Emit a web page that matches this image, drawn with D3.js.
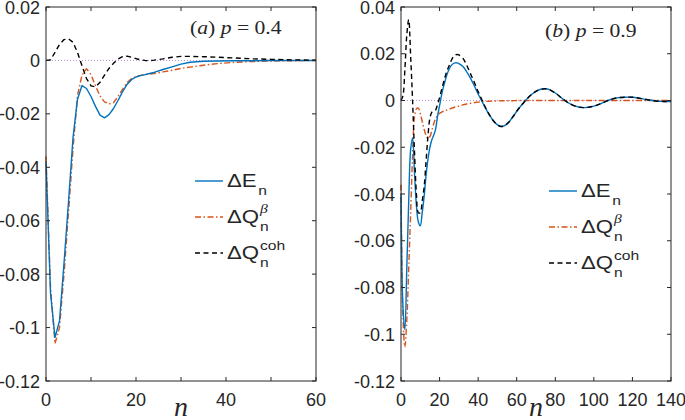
<!DOCTYPE html>
<html>
<head>
<meta charset="utf-8">
<style>
  body { margin: 0; background: #fff; }
  svg text { font-family: "Liberation Sans", Arial, sans-serif; fill: #262626; }
</style>
</head>
<body>
<script src="https://cdnjs.cloudflare.com/ajax/libs/d3/7.8.5/d3.min.js"></script>
<svg id="chart" width="685" height="420"></svg>
<script>
// ---- panel (a), p = 0.4 ----
const nA = [0,1,2,3,4,5,6,7,8,9,10,11,12,13,14,15,16,17,18,19,20,21,22,23,24,26,28,30,32,35,38,42,46,50,55,60];
const eA = [-0.038,-0.087,-0.1037,-0.0975,-0.076,-0.053,-0.029,-0.0145,-0.0094,-0.0105,-0.0135,-0.0172,-0.0205,-0.0215,-0.0203,-0.018,-0.015,-0.0118,-0.009,-0.0072,-0.0062,-0.0057,-0.0053,-0.0049,-0.0045,-0.0034,-0.0024,-0.0014,-0.0007,-0.0003,-0.0002,-0.0001,-0.0001,0,0,0];
const qbA = [-0.036,-0.085,-0.106,-0.1,-0.08,-0.057,-0.033,-0.013,-0.0055,-0.0031,-0.0053,-0.0095,-0.0133,-0.0155,-0.0163,-0.0158,-0.0135,-0.0108,-0.0083,-0.0068,-0.006,-0.0056,-0.0053,-0.0051,-0.0049,-0.0043,-0.0037,-0.003,-0.0025,-0.0018,-0.0012,-0.0007,-0.0004,-0.0002,-0.0001,0];
const qcA = [0,0.0002,0.003,0.006,0.0078,0.0081,0.0068,0.003,-0.002,-0.0068,-0.0095,-0.0099,-0.0082,-0.0055,-0.003,-0.0011,0.0005,0.0014,0.0016,0.0012,0.0007,0.0002,0,-0.0001,0.0001,0.0006,0.0012,0.0015,0.0015,0.0014,0.0012,0.0009,0.0006,0.0004,0.0002,0.0001];

// ---- panel (b), p = 0.9 ----
const nB = [0,1,2,3,4,5,6,7,8,9,10,11,12,13,14,15,16,17,18,19,20,21,22,23,24,25,26,27,28,29,30,
  32,34,36,38,40,42,44,46,48,50,52,54,56,58,60,64,68,72,76,80,84,88,92,96,100,104,108,112,116,120,124,128,132,136,140];
const eB = [-0.04,-0.088,-0.098,-0.072,-0.043,-0.021,-0.016,-0.031,-0.045,-0.052,-0.0536,-0.048,-0.041,-0.032,-0.025,-0.02,-0.0168,-0.0148,-0.012,-0.0065,-0.0022,0.0022,0.0058,0.0088,0.0115,0.0135,0.0149,0.0157,0.0161,0.0161,0.0158,
  0.0146,0.0124,0.0096,0.0063,0.0028,-0.0004,-0.0036,-0.0064,-0.0088,-0.0104,-0.0111,-0.0106,-0.0092,-0.007,-0.0046,-0.0005,0.0028,0.0047,0.0049,0.0032,0.0006,-0.0016,-0.0028,-0.003,-0.0024,-0.0012,0.0002,0.0011,0.0014,0.0014,0.0009,0.0003,-0.0002,-0.0004,-0.0005];
const qbB = [-0.036,-0.092,-0.1055,-0.094,-0.072,-0.048,-0.024,-0.007,-0.0035,-0.0033,-0.0055,-0.009,-0.0123,-0.015,-0.0163,-0.0155,-0.0128,-0.0098,-0.0077,-0.0063,-0.0055,-0.005,-0.0046,-0.0043,-0.004,-0.0037,-0.0034,-0.0031,-0.0028,-0.0026,-0.0024,
  -0.0019,-0.0015,-0.0012,-0.0009,-0.0007,-0.0005,-0.0004,-0.0003,-0.0002,-0.0002,-0.0001,-0.0001,-0.0001,-0.0001,0,0,0,0,0,0,0,0,0,0,0,0,0,0,0,0,0,0,0,0,0];
const qcB = [0,0.002,0.013,0.028,0.0346,0.019,0,-0.022,-0.04,-0.048,-0.048,-0.043,-0.037,-0.026,-0.015,-0.0075,-0.005,-0.0046,-0.004,-0.0015,0.0012,0.0045,0.0075,0.0105,0.013,0.015,0.017,0.0185,0.0194,0.0197,0.0195,
  0.0182,0.0152,0.0115,0.0078,0.0038,0.0002,-0.0033,-0.0064,-0.0088,-0.0104,-0.0111,-0.0106,-0.0092,-0.007,-0.0046,-0.0005,0.0028,0.0047,0.0049,0.0032,0.0006,-0.0016,-0.0028,-0.003,-0.0024,-0.0012,0.0002,0.0011,0.0014,0.0014,0.0009,0.0003,-0.0002,-0.0004,-0.0005];

const yTicksA = [-0.12,-0.1,-0.08,-0.06,-0.04,-0.02,0,0.02];
const yTicksB = [-0.12,-0.1,-0.08,-0.06,-0.04,-0.02,0,0.02,0.04];
const xTicksA = [0,10,20,30,40,50,60];
const xLabelsA = [0,20,40,60];
const xTicksB = [0,20,40,60,80,100,120,140];

const fmt = v => v === 0 ? '0' : String(+v.toFixed(2));

const svg = d3.select('#chart');
const axisCol = '#262626';

function drawPanel(p) {
  const x = d3.scaleLinear().domain(p.xDom).range([p.left, p.right]);
  const y = d3.scaleLinear().domain(p.yDom).range([p.bottom, p.top]);
  const g = svg.append('g');

  // zero reference line
  g.append('line')
    .attr('x1', x(p.xDom[0])).attr('x2', x(p.xDom[1]))
    .attr('y1', y(0)).attr('y2', y(0))
    .attr('stroke', '#b98fe0').attr('stroke-width', 1)
    .attr('stroke-dasharray', '1,2');

  const line = d3.line()
    .x((d, i) => x(p.n[i]))
    .y(d => y(d))
    .curve(p.curve);

  const series = [
    { v: p.qb, c: '#D95319', dash: '6,2.5,1.5,2.5' },
    { v: p.e,  c: '#0072BD', dash: null },
    { v: p.qc, c: '#000000', dash: '5,3.5' }
  ];
  series.forEach(s => {
    g.append('path')
      .attr('d', line(s.v))
      .attr('fill', 'none')
      .attr('stroke', s.c)
      .attr('stroke-width', 1.4)
      .attr('stroke-linejoin', 'round')
      .attr('stroke-dasharray', s.dash);
  });

  // box
  g.append('rect')
    .attr('x', p.left).attr('y', p.top)
    .attr('width', p.right - p.left).attr('height', p.bottom - p.top)
    .attr('fill', 'none').attr('stroke', axisCol).attr('stroke-width', 1);

  // inner ticks, all four sides
  const tl = 4;
  p.xTicks.forEach(t => {
    g.append('line').attr('x1', x(t)).attr('x2', x(t)).attr('y1', p.bottom).attr('y2', p.bottom - tl).attr('stroke', axisCol);
    g.append('line').attr('x1', x(t)).attr('x2', x(t)).attr('y1', p.top).attr('y2', p.top + tl).attr('stroke', axisCol);
  });
  p.yTicks.forEach(t => {
    g.append('line').attr('x1', p.left).attr('x2', p.left + tl).attr('y1', y(t)).attr('y2', y(t)).attr('stroke', axisCol);
    g.append('line').attr('x1', p.right).attr('x2', p.right - tl).attr('y1', y(t)).attr('y2', y(t)).attr('stroke', axisCol);
  });

  g.selectAll('.yl').data(p.yTicks).enter().append('text')
    .attr('x', p.left - 6).attr('y', d => y(d) + 6.5)
    .attr('text-anchor', 'end').attr('font-size', 18)
    .text(fmt);
  g.selectAll('.xl').data(p.xLabels).enter().append('text')
    .attr('x', d => x(d)).attr('y', p.bottom + 25)
    .attr('text-anchor', 'middle').attr('font-size', 18)
    .text(d => d);

  // x label
  g.append('text')
    .attr('x', (p.left + p.right) / 2).attr('y', 416)
    .attr('text-anchor', 'middle')
    .attr('font-size', 28).attr('font-style', 'italic')
    .style('font-family', '"Liberation Serif", "Times New Roman", serif')
    .text('n');

  // panel title
  const tt = g.append('text')
    .attr('transform', `translate(${p.titleX},${p.titleY}) scale(1.14,1)`)
    .attr('font-size', 19)
    .style('font-family', '"Liberation Serif", "Times New Roman", serif');
  tt.append('tspan').text('(');
  tt.append('tspan').attr('font-style', 'italic').text(p.tag);
  tt.append('tspan').text(') ');
  tt.append('tspan').attr('font-style', 'italic').text('p');
  tt.append('tspan').text(' = ' + p.pval);

  // legend
  const items = [
    { c: '#0072BD', dash: null, main: 'ΔE', sup: null },
    { c: '#D95319', dash: '6,2.5,1.5,2.5', main: 'ΔQ', sup: 'β' },
    { c: '#000000', dash: '5,3.5', main: 'ΔQ', sup: 'coh' }
  ];
  items.forEach((it, i) => {
    const ly = p.legY + i * p.legStep;
    g.append('line')
      .attr('x1', p.legX).attr('x2', p.legX + 28)
      .attr('y1', ly).attr('y2', ly)
      .attr('stroke', it.c).attr('stroke-width', 1.4)
      .attr('stroke-dasharray', it.dash);
    const tx = g.append('g').attr('transform', `translate(${p.legX + 32},${ly + 5.5}) scale(1.2,1)`);
    tx.append('text').attr('font-size', 18.5).text(it.main);
    const w = it.main === 'ΔE' ? 26 : 27.5;
    tx.append('text').attr('x', w).attr('y', 8).attr('font-size', 13).text('n');
    if (it.sup) {
      tx.append('text').attr('x', w).attr('y', it.sup === 'β' ? -10 : -9)
        .attr('font-size', 13)
        .style('font-family', it.sup === 'β' ? '"Liberation Serif", serif' : null)
        .attr('font-style', it.sup === 'β' ? 'italic' : null)
        .text(it.sup);
    }
  });
}

drawPanel({
  left: 46, right: 316, top: 7, bottom: 381,
  xDom: [0, 60], yDom: [-0.12, 0.02],
  xTicks: xTicksA, xLabels: xLabelsA, yTicks: yTicksA,
  n: nA, e: eA, qb: qbA, qc: qcA, curve: d3.curveLinear,
  tag: 'a', pval: '0.4', titleX: 190, titleY: 34,
  legX: 195, legY: 181, legStep: 36
});

drawPanel({
  left: 401, right: 671, top: 7, bottom: 381,
  xDom: [0, 140], yDom: [-0.12, 0.04],
  xTicks: xTicksB, xLabels: xTicksB, yTicks: yTicksB,
  n: nB, e: eB, qb: qbB, qc: qcB, curve: d3.curveCatmullRom.alpha(0.5),
  tag: 'b', pval: '0.9', titleX: 545, titleY: 37,
  legX: 549, legY: 191, legStep: 36
});
</script>
</body>
</html>
